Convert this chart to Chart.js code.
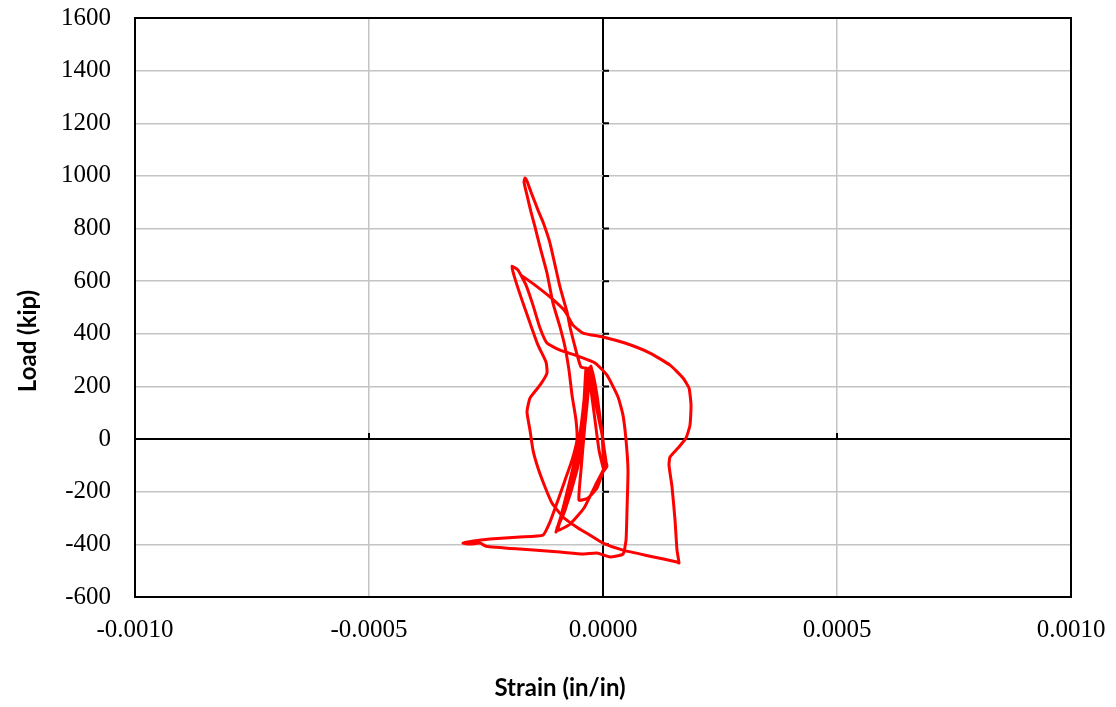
<!DOCTYPE html>
<html>
<head>
<meta charset="utf-8">
<script src="https://cdn.jsdelivr.net/npm/chart.js@4.4.1/dist/chart.umd.min.js"></script>
<style>
  html, body { margin: 0; padding: 0; background: #fff; }
  #wrap { width: 1116px; height: 707px; }
</style>
</head>
<body>
<div id="wrap"><canvas id="chart" width="1116" height="707"></canvas></div>
<script>
// axis ranges / ticks
const xMin = -0.001, xMax = 0.001, xStep = 0.0005
const yMin = -600, yMax = 1600, yStep = 200

// strain (in/in), in drawing order
const strain = [
  0, -0.0000128, -0.0000235, -0.0000299, -0.0000342, -0.0000427, -0.0000577, -0.0000791, -0.0001004, -0.0000855,
  -0.0000662, -0.0000492, -0.0000385, -0.0000321, -0.0000256, -0.0000171, -0.0000064, 0, 0.0000043, 0.0000085,
  0, -0.0000128, -0.0000321, -0.0000513, -0.0000470, -0.0000406, -0.0000342, -0.0000299, -0.0000214, -0.0000107,
  -0.0000021, 0, 0.0000021, -0.0000128, -0.0000406, -0.0000705, -0.0000962, -0.0000791, -0.0000598, -0.0000449,
  -0.0000363, -0.0000321, -0.0000363,
  -0.0000406, -0.0000513, -0.0000705, -0.0000919, -0.0000983, -0.0000812, -0.0000556, -0.0000427, -0.0000342, -0.0000278,
  -0.0000235, -0.0000128, -0.0000043, 0.0000021, 0.0000064, 0.0000021, -0.0000085, -0.0000171, -0.0000256, -0.0000321,
  -0.0000470, -0.0000534, -0.0000598, -0.0000705, -0.0000769, -0.0000919, -0.0001133,
  -0.0001282, -0.0001389, -0.0001539, -0.0001624, -0.0001667, -0.0001688, -0.0001624, -0.0001539, -0.0001453, -0.0001346,
  -0.0001197, -0.0001069, -0.0000919, -0.0000812, -0.0000727, -0.0000662, -0.0000577, -0.0000556, -0.0000662, -0.0000812,
  -0.0000962, -0.0001133, -0.0001282, -0.0001774, -0.0002415, -0.0002800, -0.0002992, -0.0002842, -0.0002629, -0.0002500,
  -0.0001774, -0.0000919, -0.0000427, -0.0000128, 0.0000150, 0.0000427, 0.0000492, 0.0000513, 0.0000534, 0.0000492,
  0.0000427, 0.0000321, 0.0000085, -0.0000171, -0.0000534, -0.0000919, -0.0001197, -0.0001346, -0.0001496, -0.0001645,
  -0.0001816, -0.0001945, -0.0001923, -0.0001838, -0.0001731, -0.0001560, -0.0001389, -0.0001218, -0.0001197, -0.0001346,
  -0.0001560, -0.0001624, -0.0001560, -0.0001496, -0.0001389, -0.0001239, -0.0001090, -0.0000855, -0.0000534, -0.0000278,
  0, 0.0000427, 0.0001004, 0.0001581, 0.0001624, 0.0001581, 0.0001539, 0.0001475, 0.0001410, 0.0001432,
  0.0001603, 0.0001774, 0.0001859, 0.0001881, 0.0001838, 0.0001710, 0.0001432, 0.0001004, 0.0000470, 0,
  -0.0000427, -0.0000641, -0.0000812, -0.0001133, -0.0001453, -0.0001752
]

// load (kip), same order
const load = [
  0, 110, 205, 270, 186, 53, -99, -232, -353, -277,
  -148, -23, 110, 217, 277, 194, 80, -4, -72, -103,
  -125, -186, -224, -232, -118, 15, 148, 255, 232, 118,
  27, -49, -110, -163, -262, -323, -346, -239, -118, 15,
  148, 262, 270,
  148, -4, -156, -308, -338, -270, -118, -4, 129, 255,
  262, 167, 53, -34, -87, -118, -42, 72, 186, 266,
  274, 308, 350, 426, 483, 578, 745,
  825, 870, 939, 980, 992, 977, 927, 863, 806, 730,
  631, 517, 426, 350, 262, 167, 72, -4, -80, -156,
  -232, -315, -365, -372, -380, -388, -395, -399, -395, -407,
  -418, -429, -437, -433, -448, -437, -384, -270, -118, -4,
  91, 160, 243, 289, 315, 338, 365, 422, 509, 585,
  642, 657, 635, 585, 528, 441, 357, 293, 251, 205,
  156, 103, 34, -42, -110, -182, -243, -296, -338, -365,
  -395, -422, -445, -467, -471, -422, -308, -182, -99, -68,
  -34, 4, 53, 129, 194, 232, 281, 327, 365, 388,
  403, 433, 486, 540, 585, 623
]

const points = strain.map((s, i) => ({ x: s, y: load[i] }))

const isZero = v => Math.abs(v) < 1e-9

// black frame round the plot area
const frame = {
  id: 'frame',
  afterDatasetsDraw(chart) {
    const { ctx, chartArea: a } = chart
    ctx.save()
    ctx.strokeStyle = '#000'
    ctx.lineWidth = 2
    ctx.strokeRect(a.left, a.top, a.right - a.left, a.bottom - a.top)
    ctx.restore()
  }
}

// little tick marks on the zero lines
const zeroTicks = {
  id: 'zeroTicks',
  beforeDatasetsDraw(chart) {
    const { ctx, scales: { x, y } } = chart
    const x0 = x.getPixelForValue(0)
    const y0 = y.getPixelForValue(0)
    ctx.save()
    ctx.strokeStyle = '#000'
    ctx.lineWidth = 2
    ctx.beginPath()
    for (let v = yMin; v <= yMax; v += yStep) {
      const py = y.getPixelForValue(v)
      ctx.moveTo(x0, py)
      ctx.lineTo(x0 + 6, py)
    }
    for (let v = xMin; v <= xMax + 1e-12; v += xStep) {
      const px = x.getPixelForValue(v)
      ctx.moveTo(px, y0)
      ctx.lineTo(px, y0 - 6)
    }
    ctx.stroke()
    ctx.restore()
  }
}

// axis titles, placed where the original has them
const titles = {
  id: 'titles',
  afterDraw(chart) {
    const { ctx } = chart
    ctx.save()
    ctx.fillStyle = '#000'
    ctx.font = 'bold 24px Lato'
    ctx.textAlign = 'center'
    ctx.textBaseline = 'middle'
    ctx.fillText('Strain (in/in)', 560, 688)
    ctx.translate(28, 341)
    ctx.rotate(-Math.PI / 2)
    ctx.fillText('Load (kip)', 0, 0)
    ctx.restore()
  }
}

new Chart(document.getElementById('chart'), {
  type: 'scatter',
  data: {
    datasets: [{
      data: points,
      showLine: true,
      borderColor: '#ff0000',
      backgroundColor: '#ff0000',
      borderWidth: 3,
      pointRadius: 0,
      tension: 0.15
    }]
  },
  options: {
    responsive: false,
    devicePixelRatio: 1,
    animation: false,
    layout: { padding: { top: 18, right: 45, left: 0, bottom: 0 } },
    plugins: { legend: { display: false }, tooltip: { enabled: false } },
    scales: {
      x: {
        type: 'linear',
        min: xMin,
        max: xMax,
        afterFit: s => { s.height = 110; s.paddingLeft = 0; s.paddingRight = 0 },
        ticks: {
          stepSize: xStep,
          padding: 18,
          color: '#000',
          font: { family: 'Liberation Serif', size: 25 },
          callback: v => v.toFixed(4)
        },
        grid: {
          drawTicks: false,
          color: c => isZero(c.tick.value) ? '#000' : '#c4c4c4',
          lineWidth: c => isZero(c.tick.value) ? 2 : 1.5
        },
        border: { display: false }
      },
      y: {
        type: 'linear',
        min: yMin,
        max: yMax,
        afterFit: s => { s.width = 135; s.paddingTop = 0; s.paddingBottom = 0 },
        ticks: {
          stepSize: yStep,
          padding: 24,
          color: '#000',
          font: { family: 'Liberation Serif', size: 25 },
          callback: v => String(v)
        },
        grid: {
          drawTicks: false,
          color: c => isZero(c.tick.value) ? '#000' : '#c4c4c4',
          lineWidth: c => isZero(c.tick.value) ? 2 : 1.5
        },
        border: { display: false }
      }
    }
  },
  plugins: [frame, zeroTicks, titles]
})
</script>
</body>
</html>
